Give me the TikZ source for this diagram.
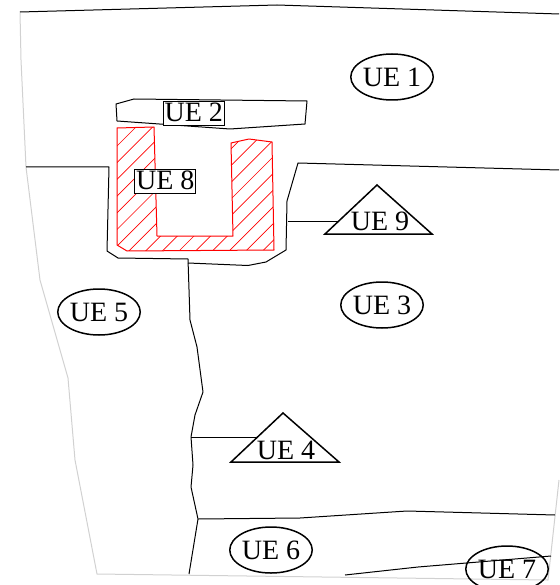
\documentclass[tikz,border=0pt]{standalone}
\usepackage{fontspec}
\setmainfont{Liberation Serif}
\usetikzlibrary{shapes.geometric}
\definecolor{edgegrey}{gray}{0.82}
\tikzset{
  wall/.style={draw=black,line width=1pt,line join=round},
  outer/.style={draw=edgegrey,line width=1pt,line join=round},
  hatchline/.style={draw=red,line width=0.7pt},
  hatchedge/.style={draw=red,line width=1pt,line join=round},
  ue/.style={font=\fontsize{28}{28}\selectfont,inner sep=0pt},
  ueell/.style={ue,draw=black,line width=1.5pt,ellipse,minimum width=82pt,minimum height=46pt},
  uebox/.style={ue,draw=black,fill=white,line width=0.8pt,minimum width=61pt,minimum height=24pt,text height=18pt,text depth=1pt},
  uetri/.style={draw=black,line width=1.5pt,line join=miter},
}
\begin{document}
\begin{tikzpicture}[x=1pt,y=-1pt]
\useasboundingbox (0,0) rectangle (559,585);
% outer outline
\draw[outer] (20,12) -- (21,60) -- (26,167) -- (40,280) -- (68,378) -- (75,460) -- (97,574) -- (548,580) -- (559,480);
\draw[wall] (20,12) -- (277,5) -- (559,14);
% UE 2 outline
\draw[wall] (116,104) -- (134,99) -- (307,101) -- (305,124) -- (230,129) -- (117,121) -- cycle;
% hatch
\begin{scope}
\clip (117,128) -- (154,127) -- (157,236) -- (233,236) -- (231,143) -- (249,139) -- (272,142) -- (274,250) -- (127,251) -- (117,245) -- cycle;
\foreach \k in {0,...,15}{
  \pgfmathsetmacro{\s}{263+16.7*\k}
  \draw[hatchline] (100,\s-100) -- (300,\s-300);
}
\end{scope}
\draw[hatchedge] (117,128) -- (154,127) -- (157,236) -- (233,236) -- (231,143) -- (249,139) -- (272,142) -- (274,250) -- (127,251) -- (117,245) -- cycle;
% inner walls
\draw[wall] (26,167) -- (109,167) -- (107,251) -- (118,258) -- (188,259) -- (190,320) -- (197,347) -- (203,392) -- (195,415) -- (191,437) -- (193,465) -- (191,487) -- (198,519) -- (189,574);
\draw[wall] (188,263) -- (248,265.5) -- (266,262) -- (286,250) -- (287,201) -- (298,163) -- (559,170);
\draw[wall] (198,519) -- (300,518) -- (407,511) -- (555,515);
\draw[wall] (345,575) -- (418,567) -- (551,556);
% labels
\node[ueell] (ue1) at (392,77) {UE 1};
\node[ueell] (ue3) at (382,305) {UE 3};
\node[ueell] (ue5) at (99,312) {UE 5};
\node[ueell] (ue6) at (271,550) {UE 6};
\node[ueell] (ue7) at (507,569) {UE 7};
\node[uebox] (ue2) at (193.8,113) {UE 2};
\node[uebox] (ue8) at (165.3,181) {UE 8};
\coordinate (t9a) at (377,185);
\coordinate (t9b) at (325,234);
\coordinate (t9c) at (432,234);
\draw[uetri] (t9a) -- (t9b) -- (t9c) -- cycle;
\node[ue] (ue9) at (380,221) {UE 9};
\coordinate (t4a) at (283,413);
\coordinate (t4b) at (231,462);
\coordinate (t4c) at (339,462);
\draw[uetri] (t4a) -- (t4b) -- (t4c) -- cycle;
\node[ue] (ue4) at (286,450) {UE 4};
\coordinate (w9) at (288,221);
\coordinate (e9) at (339,221);
\coordinate (w4) at (191,437);
\coordinate (e4) at (257.5,437);
\draw[wall] (w9) -- (e9);
\draw[wall] (w4) -- (e4);
\end{tikzpicture}
\end{document}
